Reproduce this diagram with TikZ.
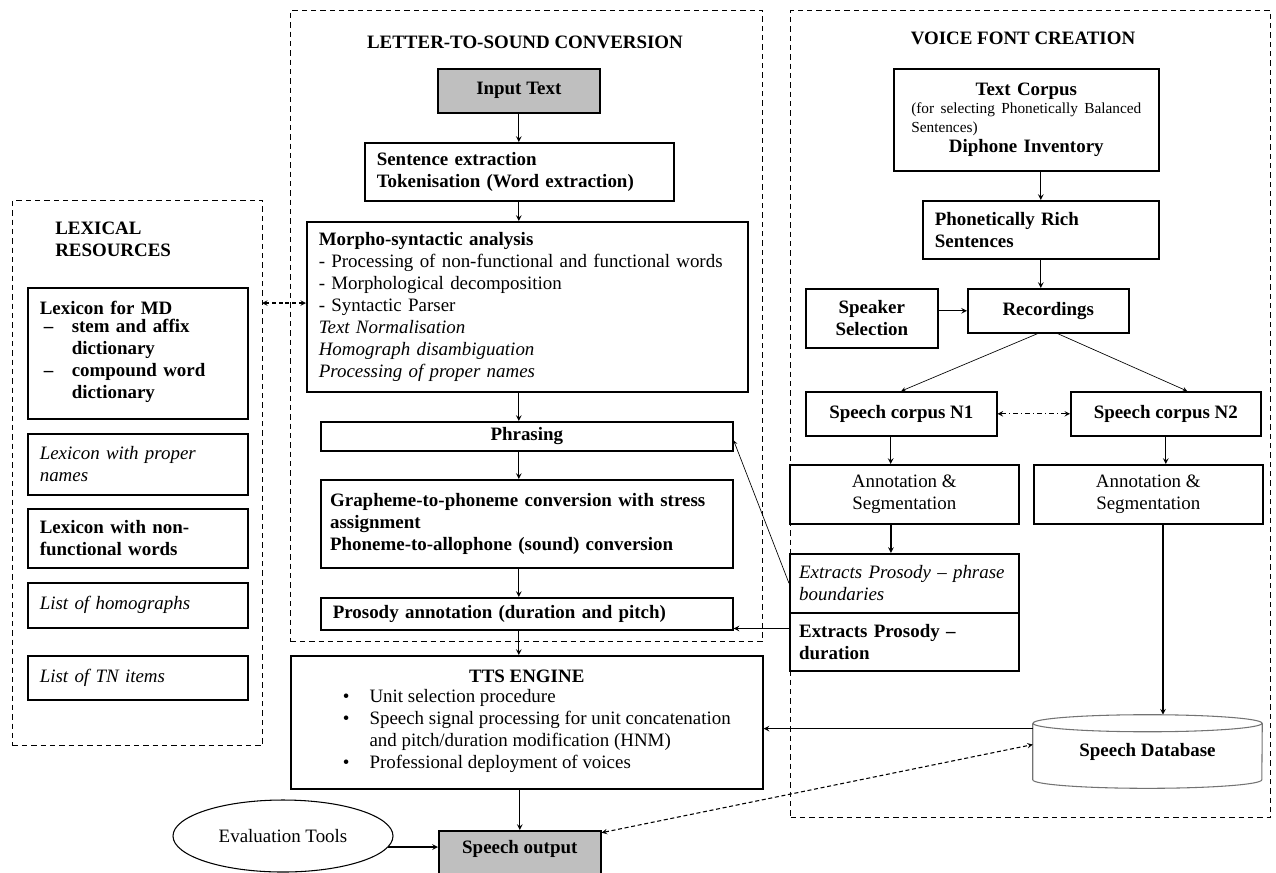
\documentclass[tikz,border=0pt]{standalone}
\usepackage{fontspec}
\setmainfont{Liberation Serif}
\usepackage{tikz}
\usetikzlibrary{shapes.geometric, arrows}
\newcommand{\basefont}{\fontsize{14.2}{16.5}\selectfont}
\newcommand{\smallfont}{\fontsize{11.5}{14}\selectfont}
\tikzstyle{group} = [rectangle, draw=black, line width=0.8pt, dash pattern=on 4pt off 3pt, anchor=north west]
\tikzstyle{process} = [rectangle, draw=black, line width=1.2pt, inner xsep=9pt, inner ysep=3pt, anchor=north west, font=\basefont\bfseries]
\tikzstyle{plainbox} = [process, font=\basefont]
\tikzstyle{italicbox} = [process, font=\basefont\itshape]
\tikzstyle{greybox} = [process, fill=gray!50]
\tikzstyle{title} = [font=\basefont\bfseries, inner sep=0pt]
\tikzstyle{arrow} = [->, >=stealth, line width=0.9pt]
\tikzstyle{thinarrow} = [->, >=stealth, line width=0.5pt]
\tikzstyle{dasharrow} = [<->, >=stealth, line width=0.8pt, dash pattern=on 3pt off 2pt]
\tikzstyle{dotarrow} = [<->, >=stealth, line width=0.8pt, dash pattern=on 4pt off 2pt on 1pt off 2pt]
\tikzstyle{dbline} = [draw=black!55, line width=0.8pt]

\begin{document}
\begin{tikzpicture}[x=0.75pt, y=-0.75pt, font=\basefont]
	\useasboundingbox (0,0) rectangle (1276,872);
	
	% dashed groups
	\node[group, minimum width=187.5pt, minimum height=408.75pt](lexical) at (12,200) {};
	\node[group, minimum width=354pt, minimum height=473.25pt](lts) at (290,10) {};
	\node[group, minimum width=360pt, minimum height=605.25pt](voice_font) at (790,10) {};
	\node[title, anchor=west, align=left](lexical_title) at (55,239) {LEXICAL\\RESOURCES};
	\node[title](lts_title) at (525,42) {LETTER-TO-SOUND CONVERSION};
	\node[title](voice_title) at (1023,38) {VOICE FONT CREATION};
	
	% lexical resources
	\node[process, text width=147pt, minimum height=98.25pt, align=left](lexicon_md) at (27,287) {Lexicon for MD\\[1pt]
		\begin{tabular}{@{\hspace{3pt}}p{21pt}@{}l@{}}
			– & stem and affix\\ & dictionary\\ – & compound word\\ & dictionary
		\end{tabular}};
	\node[italicbox, text width=147pt, minimum height=45.75pt, align=left](lex_proper) at (27,433) {Lexicon with proper\\names};
	\node[process, text width=147pt, minimum height=44.25pt, align=left](lex_nonfunc) at (27,508) {Lexicon with non-\\functional words};
	\node[italicbox, text width=147pt, minimum height=33.75pt, align=left](homographs) at (27,582) {List of homographs};
	\node[italicbox, text width=147pt, minimum height=33pt, align=left](tn_items) at (27,655) {List of TN items};
	
	% letter-to-sound conversion
	\node[greybox, minimum width=121.5pt, minimum height=33pt](input_text) at (437,68) {Input Text};
	\node[process, text width=213.75pt, minimum height=43.5pt, align=left](sentence_ext) at (364,142) {Sentence extraction\\Tokenisation (Word extraction)};
	\node[plainbox, text width=312.75pt, minimum height=127.5pt, align=left](morpho) at (306,221) {\textbf{Morpho-syntactic analysis}\\- Processing of non-functional and functional words\\- Morphological decomposition\\- Syntactic Parser\\\textit{Text Normalisation}\\\textit{Homograph disambiguation}\\\textit{Processing of proper names}};
	\node[process, minimum width=309pt, minimum height=21.75pt](phrasing) at (320,421) {Phrasing};
	\node[process, inner xsep=7pt, text width=295pt, minimum height=66pt, align=left](g2p) at (320,479) {Grapheme-to-phoneme conversion with stress\\assignment\\Phoneme-to-allophone (sound) conversion};
	\node[process, text width=291pt, minimum height=24pt, align=left](prosody) at (320,597) {Prosody annotation (duration and pitch)};
	
	% engine and output
	\node[plainbox, minimum width=354pt, minimum height=99.75pt, align=center](tts) at (290,655) {\textbf{TTS ENGINE}\\[2pt]
		\begin{tabular}{@{\hspace{15pt}}p{20pt}@{}l@{}}
			\textbullet & Unit selection procedure\\
			\textbullet & Speech signal processing for unit concatenation\\
			& and pitch/duration modification (HNM)\\
			\textbullet & Professional deployment of voices
		\end{tabular}};
	\node[greybox, minimum width=121.5pt, text height=14.25pt, text depth=30pt](speech_out) at (438,830) {Speech output};
	\node[ellipse, draw=black, line width=0.8pt, minimum width=165pt, minimum height=54pt, inner sep=0pt](eval_tools) at (283,836) {Evaluation Tools};
	
	% voice font creation
	\node[process, text width=180.75pt, minimum height=76.5pt, align=center](text_corpus) at (893,68) {Text Corpus\\
		{\normalfont\smallfont\begin{tabular}{@{}l@{}}(for selecting Phonetically Balanced\\Sentences)\end{tabular}}\\
		Diphone Inventory};
	\node[process, text width=159pt, minimum height=43.5pt, align=left](rich_sent) at (922,200) {Phonetically Rich\\Sentences};
	\node[process, minimum width=99pt, minimum height=44.25pt, align=center](speaker) at (805,288) {Speaker\\Selection};
	\node[process, minimum width=120.75pt, minimum height=33pt](recordings) at (967,288) {Recordings};
	\node[process, minimum width=143.25pt, minimum height=33pt](corpus_n1) at (805,391) {Speech corpus N1};
	\node[process, minimum width=142.5pt, minimum height=33pt](corpus_n2) at (1070,391) {Speech corpus N2};
	\node[plainbox, minimum width=171.75pt, minimum height=44.25pt, align=center](annot_n1) at (789,464) {Annotation \&\\Segmentation};
	\node[plainbox, minimum width=171.75pt, minimum height=44.25pt, align=center](annot_n2) at (1033,464) {Annotation \&\\Segmentation};
	\node[italicbox, inner xsep=7pt, text width=157.75pt, minimum height=44.25pt, align=left](phrase_bound) at (789,553) {Extracts Prosody – phrase\\boundaries};
	\node[process, inner xsep=7pt, text width=157.75pt, minimum height=43.5pt, align=left](duration) at (789,612) {Extracts Prosody –\\duration};
	\node[font=\basefont\bfseries, minimum width=171.75pt, minimum height=42pt, inner sep=0pt](speech_db) at (1147.5,751.5) {\raisebox{-6pt}{Speech Database}};
	\draw[dbline] (speech_db.north) ellipse [x radius=85.9pt, y radius=6.4pt];
	\draw[dbline] (speech_db.north west) -- (speech_db.south west) arc[start angle=180, end angle=360, x radius=85.9pt, y radius=6.4pt] -- (speech_db.north east);
	\coordinate (db_top) at ([yshift=6.4pt]speech_db.north);
	\coordinate (lex_link) at (262,303);
	
	\draw[arrow] (input_text) -- (input_text.south |- sentence_ext.north);
	\draw[arrow] (input_text.south |- sentence_ext.south) -- (input_text.south |- morpho.north);
	\draw[arrow] (input_text.south |- morpho.south) -- (input_text.south |- phrasing.north);
	\draw[arrow] (input_text.south |- phrasing.south) -- (input_text.south |- g2p.north);
	\draw[arrow] (input_text.south |- g2p.south) -- (input_text.south |- prosody.north);
	\draw[arrow] (input_text.south |- prosody.south) -- (input_text.south |- tts.north);
	\draw[arrow] (tts.south -| speech_out.north) -- (speech_out.north);
	\draw[arrow] (eval_tools.-6) -- (eval_tools.-6 -| speech_out.west);
	\draw[dasharrow] (lex_link) -- (lex_link -| morpho.west);
	
	\draw[arrow] (rich_sent.north |- text_corpus.south) -- (rich_sent.north);
	\draw[arrow] (rich_sent.south) -- (rich_sent.south |- recordings.north);
	\draw[arrow] (speaker.east |- recordings.east) -- (recordings.west);
	\draw[thinarrow] ([xshift=-8pt]recordings.south) -- (corpus_n1.north);
	\draw[thinarrow] ([xshift=7pt]recordings.south) -- ([xshift=16pt]corpus_n2.north);
	\draw[dotarrow] (corpus_n1) -- (corpus_n2);
	\draw[arrow] ([xshift=-8pt]corpus_n1.south) -- ([xshift=-8pt]corpus_n1.south |- annot_n1.north);
	\draw[arrow] ([xshift=-10pt]annot_n1.south) -- ([xshift=-10pt]annot_n1.south |- phrase_bound.north);
	\draw[arrow] (corpus_n2.south) -- (corpus_n2.south |- annot_n2.north);
	\draw[arrow] ([xshift=11pt]annot_n2.south) -- ([xshift=11pt]annot_n2.south |- db_top);
	\draw[thinarrow] (phrase_bound.west) -- ([yshift=-3pt]phrasing.east);
	\draw[arrow] ([yshift=10pt]duration.west) -- ([yshift=10pt]duration.west -| prosody.east);
	\draw[arrow] ([yshift=-4pt]speech_db.north west) -- ([yshift=-4pt]speech_db.north west -| tts.east);
	\draw[dasharrow] ([yshift=-2pt]speech_out.north east) -- ([yshift=-16pt]speech_db.north west);
\end{tikzpicture}
\end{document}
